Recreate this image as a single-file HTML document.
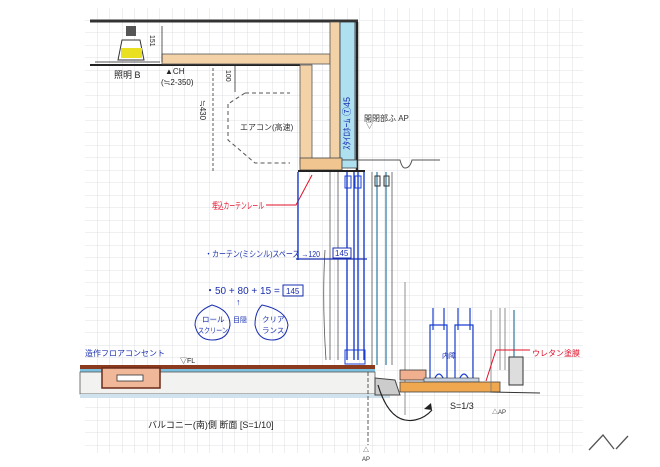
<!DOCTYPE html>
<html><head><meta charset="utf-8"><style>
html,body{margin:0;padding:0;background:#fff;}
svg{display:block}
text{font-family:"Liberation Sans","Noto Sans CJK JP",sans-serif;}
</style></head><body>
<svg width="660" height="467" viewBox="0 0 660 467" xmlns="http://www.w3.org/2000/svg">
<defs>
<pattern id="g" width="12.5" height="12.5" patternUnits="userSpaceOnUse" x="85" y="8">
<path d="M12.5 0V12.5H0" fill="none" stroke="#d4d8dc" stroke-width="0.8"/>
</pattern>
</defs>
<rect width="660" height="467" fill="#fff"/>
<rect x="85" y="8" width="498" height="445" fill="url(#g)"/>

<!-- ceiling -->
<line x1="90" y1="21" x2="358" y2="21" stroke="#333" stroke-width="3"/>
<line x1="90" y1="65" x2="300" y2="65" stroke="#222" stroke-width="2"/>
<!-- wood beams -->
<rect x="162" y="54" width="168" height="10" fill="#f2d2a6" stroke="#555" stroke-width="0.8"/>
<rect x="300" y="65" width="12" height="100" fill="#f2d2a6" stroke="#555" stroke-width="0.8"/>
<rect x="330" y="22" width="10" height="142" fill="#f2d2a6" stroke="#555" stroke-width="0.8"/>
<rect x="340" y="22" width="15" height="138" fill="#aee0f0" stroke="#333" stroke-width="0.8"/>
<line x1="357" y1="22" x2="357" y2="170" stroke="#222" stroke-width="2.5"/>
<rect x="300" y="158" width="42" height="12" fill="#f0c590" stroke="#444" stroke-width="0.8"/>
<rect x="342" y="160" width="15" height="8" fill="#aee0f0" stroke="#444" stroke-width="0.8"/>
<line x1="298" y1="171" x2="365" y2="171" stroke="#222" stroke-width="2"/>
<path d="M358 160 H400 Q402 168 405 168 Q410 168 412 160 H440" fill="none" stroke="#555" stroke-width="1"/>
<text x="350" y="150" font-size="9" fill="#1a2fb0" transform="rotate(-90 350 150)">ｽﾀｲﾛﾎｰﾑ ⑦45</text>

<!-- lamp -->
<rect x="126" y="26" width="10" height="10" fill="#555"/>
<path d="M122 40 H140 L144 60 H118 Z" fill="#fff" stroke="#333"/>
<rect x="121" y="48" width="21" height="10" fill="#e8e020"/>
<line x1="95" y1="62" x2="160" y2="62" stroke="#555" stroke-width="1"/>
<text x="114" y="78" font-size="9" fill="#222">照明 B</text>
<text x="165" y="74" font-size="8" fill="#222">▲CH</text>
<text x="161" y="85" font-size="8" fill="#222">(≒2-350)</text>
<line x1="162" y1="26" x2="162" y2="62" stroke="#333" stroke-width="0.8"/>
<text x="150" y="35" font-size="7" fill="#222" transform="rotate(90 150 35)">151</text>
<line x1="235" y1="66" x2="235" y2="92" stroke="#333" stroke-width="0.8"/>
<text x="226" y="70" font-size="7" fill="#222" transform="rotate(90 226 70)">100</text>
<line x1="213" y1="68" x2="213" y2="172" stroke="#333" stroke-width="0.8" stroke-dasharray="3 2"/>
<text x="200" y="100" font-size="8" fill="#222" transform="rotate(90 200 100)">≒430</text>
<!-- aircon -->
<path d="M245 93 H290 M228 104 V140 L255 163 H290" fill="none" stroke="#555" stroke-dasharray="4 3"/>
<path d="M245 93 L228 104" stroke="#555" stroke-dasharray="4 3"/>
<text x="240" y="130" font-size="8" fill="#333">エアコン(高速)</text>
<text x="364" y="121" font-size="8" fill="#333">開閉部ふ AP</text>
<text x="366" y="128" font-size="7" fill="#333">▽</text>

<!-- red label -->
<text x="212" y="209" font-size="9" fill="#e0102a" textLength="52" lengthAdjust="spacingAndGlyphs">埋込カーテンレール</text>
<path d="M266 205 H296 L312 175" fill="none" stroke="#e0102a" stroke-width="1"/>

<!-- window lines -->
<g stroke="#1a3fd0" stroke-width="1.4">
<line x1="298" y1="172" x2="298" y2="260"/>
<line x1="347" y1="172" x2="347" y2="360"/>
<line x1="354" y1="172" x2="354" y2="360"/>
<line x1="358" y1="172" x2="358" y2="360"/>
<line x1="364" y1="172" x2="364" y2="360"/>
</g>
<g stroke="#2a7aa0" stroke-width="1.2">
<line x1="377" y1="172" x2="377" y2="365"/><line x1="386" y1="172" x2="386" y2="365"/>
</g>
<g stroke="#555" stroke-width="0.8" fill="none">
<line x1="372" y1="172" x2="372" y2="365"/><line x1="392" y1="172" x2="392" y2="365"/>
<line x1="338" y1="172" x2="338" y2="360"/><line x1="330" y1="172" x2="330" y2="360"/>
<path d="M325 250 Q322 300 326 360"/>
</g>
<rect x="345" y="176" width="6" height="12" fill="none" stroke="#1a3fd0"/>
<rect x="355" y="176" width="6" height="12" fill="none" stroke="#1a3fd0"/>
<rect x="375" y="176" width="5" height="10" fill="none" stroke="#333"/>
<rect x="384" y="176" width="5" height="10" fill="none" stroke="#333"/>

<!-- blue notes -->
<text x="205" y="257" font-size="8.5" fill="#1a2fb0" textLength="115" lengthAdjust="spacingAndGlyphs">・カーテン(ミシンル)スペース →120</text>
<rect x="333" y="248" width="18" height="10" fill="#fff" stroke="#1a2fb0"/>
<text x="335" y="256" font-size="8" fill="#1a2fb0">145</text>
<line x1="296" y1="259" x2="367" y2="259" stroke="#1a2fb0" stroke-width="1.2"/>
<text x="205" y="294" font-size="10" fill="#1a2fb0">・50 + 80 + 15 =</text>
<rect x="283" y="285" width="20" height="11" fill="none" stroke="#1a2fb0"/>
<text x="286" y="294" font-size="8" fill="#1a2fb0">145</text>
<path d="M212 305 Q195 312 195 325 Q198 340 212 340 Q228 340 230 325 Q230 310 212 305Z" fill="none" stroke="#1a2fb0"/>
<text x="202" y="322" font-size="7.5" fill="#1a2fb0">ロール</text>
<text x="198" y="333" font-size="7.5" fill="#1a2fb0" textLength="30" lengthAdjust="spacingAndGlyphs">スクリーン</text>
<text x="236" y="305" font-size="9" fill="#1a2fb0">↑</text>
<text x="233" y="322" font-size="7" fill="#1a2fb0">目隠</text>
<path d="M262 305 Q255 312 255 325 Q258 340 272 340 Q286 340 288 325 Q286 310 262 305Z" fill="none" stroke="#1a2fb0"/>
<text x="262" y="322" font-size="7.5" fill="#1a2fb0">クリア</text>
<text x="262" y="333" font-size="7.5" fill="#1a2fb0">ランス</text>

<!-- floor -->
<text x="85" y="356" font-size="8" fill="#1a2fb0">造作フロアコンセント</text>
<text x="180" y="363" font-size="7" fill="#222">▽FL</text>
<rect x="80" y="365" width="295" height="4" fill="#8b3a1e"/>
<rect x="80" y="369" width="295" height="3" fill="#7cc0e0"/>
<rect x="80" y="372" width="295" height="22" fill="#f2f2f0" stroke="#555" stroke-width="0.8"/>
<rect x="102" y="368" width="58" height="20" fill="#f0b898" stroke="#6a2a18" stroke-width="1.5"/>
<rect x="117" y="375" width="26" height="6" fill="#fff" stroke="#333" stroke-width="0.8"/>
<rect x="80" y="394" width="310" height="4" fill="#cfe2ee"/>
<rect x="345" y="350" width="20" height="14" fill="none" stroke="#1a3fd0"/>
<path d="M375 378 L395 380 L400 395 L375 395 Z" fill="#ccc" stroke="#444"/>
<line x1="368" y1="372" x2="368" y2="445" stroke="#333" stroke-width="0.8" stroke-dasharray="4 2"/>
<text x="363" y="452" font-size="6" fill="#333">△</text>
<text x="362" y="461" font-size="6" fill="#333">AP</text>
<text x="148" y="428" font-size="9" fill="#222">バルコニー(南)側 断面 [S=1/10]</text>
<path d="M378 385 Q390 425 415 420 Q425 418 432 410" fill="none" stroke="#222" stroke-width="1.2"/>
<path d="M432 410 L424 409 L431 403 Z" fill="#222"/>

<!-- detail inset -->
<line x1="405" y1="282" x2="405" y2="415" stroke="#777" stroke-width="0.8"/>
<g stroke="#1a3fd0" stroke-width="1.2" fill="none">
<line x1="433" y1="308" x2="433" y2="330"/><line x1="444" y1="308" x2="444" y2="330"/>
<line x1="458" y1="308" x2="458" y2="330"/><line x1="470" y1="308" x2="470" y2="330"/>
<path d="M430 380 V325 H447 V380"/><path d="M455 380 V325 H473 V380"/>
<path d="M434 380 Q439 368 444 380"/><path d="M459 380 Q464 368 469 380"/>
</g>
<text x="442" y="358" font-size="7" fill="#1a2fb0">内障</text>
<rect x="400" y="370" width="26" height="10" fill="#f0b090" stroke="#333" stroke-width="0.8"/>
<rect x="424" y="378" width="55" height="4" fill="#c8d2e0" stroke="#333" stroke-width="0.6"/>
<rect x="400" y="382" width="100" height="10" fill="#f0a850" stroke="#444" stroke-width="0.8"/>
<line x1="490" y1="392" x2="540" y2="393" stroke="#333"/>
<rect x="509" y="357" width="14" height="28" fill="#ddd" stroke="#333"/>
<line x1="514" y1="310" x2="514" y2="357" stroke="#2a7aa0" stroke-width="1.2"/>
<line x1="491" y1="310" x2="491" y2="392" stroke="#777" stroke-width="0.8"/>
<line x1="500" y1="308" x2="500" y2="370" stroke="#777" stroke-width="0.8"/>
<line x1="505" y1="308" x2="505" y2="370" stroke="#777" stroke-width="0.8"/>
<path d="M486 381 L496 350 H530" fill="none" stroke="#e0102a"/>
<text x="532" y="356" font-size="8" fill="#e0102a">ウレタン塗膜</text>
<text x="450" y="409" font-size="9" fill="#222">S=1/3</text>
<text x="492" y="414" font-size="6" fill="#333">△AP</text>

<!-- logo -->
<path d="M589 450 L603 435 L614 449 M616 449 L628 436" fill="none" stroke="#555" stroke-width="1.3"/>
</svg>
</body></html>
